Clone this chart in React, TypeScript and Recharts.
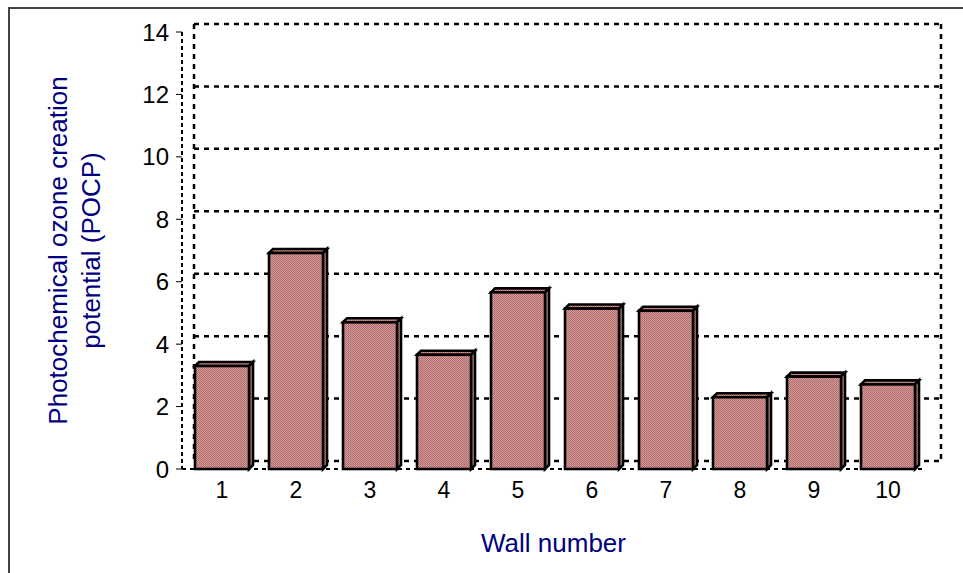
import { Bar, BarChart, CartesianGrid, XAxis, YAxis } from "recharts";

const walls = ["1", "2", "3", "4", "5", "6", "7", "8", "9", "10"];
const pocp = [3.3, 6.92, 4.7, 3.66, 5.66, 5.14, 5.07, 2.3, 2.96, 2.71];
const yTicks = [0, 2, 4, 6, 8, 10, 12, 14];

const data = walls.map((wall, i) => ({ wall, pocp: pocp[i] }));

const NAVY = "#000080";
const FONT = "'Liberation Sans', Arial, sans-serif";
// back wall offset of the pseudo-3D plot
const WALL_DX = 12;
const WALL_DY = -8;
const DEPTH = 4;

const Bar3D = (props: any) => {
  const { x, y, width, height } = props;
  if (height == null || height <= 0) return null;
  const d = DEPTH;
  return (
    <g stroke="#000" strokeWidth={2.6} fill="url(#hatch)" strokeLinejoin="miter">
      <path d={`M${x},${y} L${x + d},${y - d} L${x + width + d},${y - d} L${x + width},${y} Z`} />
      <path
        d={`M${x + width},${y} L${x + width + d},${y - d} L${x + width + d},${y + height - d} L${x + width},${y + height} Z`}
      />
      <rect x={x} y={y} width={width} height={height} />
    </g>
  );
};

const gridLine = (p: any) => (
  <line
    key={p.key}
    x1={p.x1 + WALL_DX}
    x2={p.x2 + WALL_DX + 4}
    y1={p.y1 + WALL_DY}
    y2={p.y2 + WALL_DY}
    stroke="#000"
    strokeWidth={2.5}
    strokeDasharray="5 5"
  />
);

const wallLine = (p: any) => (
  <line
    key={p.key}
    x1={p.x1 + WALL_DX + (p.index === 1 ? 4 : 0)}
    x2={p.x2 + WALL_DX + (p.index === 1 ? 4 : 0)}
    y1={p.y1 + WALL_DY}
    y2={p.y2 + WALL_DY}
    stroke="#000"
    strokeWidth={2.5}
    strokeDasharray="5 5"
  />
);

const YTitle = ({ viewBox }: any) => {
  const cy = viewBox.y + viewBox.height / 2;
  return (
    <g fill={NAVY} fontFamily={FONT} fontSize={26}>
      <text x={67} y={cy} textAnchor="middle" transform={`rotate(-90 67 ${cy})`}>
        Photochemical ozone creation
      </text>
      <text x={100} y={cy} textAnchor="middle" transform={`rotate(-90 100 ${cy})`}>
        potential (POCP)
      </text>
    </g>
  );
};

const XTitle = ({ viewBox }: any) => (
  <text
    x={viewBox.x + viewBox.width / 2}
    y={viewBox.y + 83}
    textAnchor="middle"
    fill={NAVY}
    fontFamily={FONT}
    fontSize={26}
  >
    Wall number
  </text>
);

export default function App() {
  return (
    <div
      style={{
        position: "absolute",
        left: 0,
        top: 0,
        width: 963,
        height: 573,
        background: "#fff",
        overflow: "hidden",
      }}
    >
      <div
        style={{
          position: "absolute",
          left: 8,
          top: 7,
          width: 1000,
          height: 1000,
          borderLeft: "2px solid #444",
          borderTop: "2px solid #444",
        }}
      />
      <BarChart
        width={963}
        height={573}
        data={data}
        margin={{ top: 32, right: 38, bottom: 0, left: 0 }}
        barCategoryGap={0}
        style={{ position: "absolute", left: 0, top: 0 }}
      >
        <defs>
          <pattern id="hatch" width={2} height={2} patternUnits="userSpaceOnUse">
            <rect width={2} height={2} fill="#d49a9a" />
            <rect width={1} height={1} fill="#aa6464" />
            <rect x={1} y={1} width={1} height={1} fill="#b67272" />
          </pattern>
        </defs>
        <CartesianGrid
          vertical={wallLine}
          horizontal={gridLine}
          verticalCoordinatesGenerator={({ offset }: any) => [
            offset.left,
            offset.left + offset.width,
          ]}
        />
        <XAxis
          dataKey="wall"
          height={104}
          padding={{ left: 3, right: 0 }}
          tickLine={false}
          tickSize={6}
          tickMargin={7}
          axisLine={{ stroke: "#000", strokeWidth: 2, strokeDasharray: "4 4" }}
          tick={{ fill: "#000", fontSize: 23, fontFamily: FONT }}
          label={<XTitle />}
        />
        <YAxis
          width={182}
          domain={[0, 14]}
          ticks={yTicks}
          interval={0}
          tickSize={6}
          tickMargin={7}
          tickLine={{ stroke: "#000" }}
          axisLine={{ stroke: "#000", strokeWidth: 2, strokeDasharray: "4 3" }}
          tick={{ fill: "#000", fontSize: 24, fontFamily: FONT }}
          label={<YTitle />}
        />
        <Bar dataKey="pocp" barSize={54} shape={<Bar3D />} isAnimationActive={false} />
      </BarChart>
    </div>
  );
}
